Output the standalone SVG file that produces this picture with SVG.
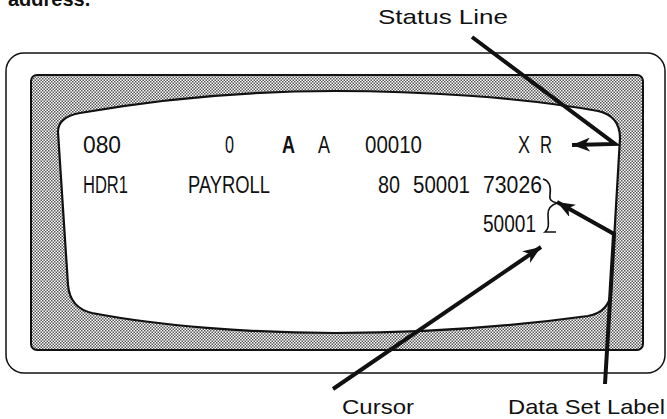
<svg xmlns="http://www.w3.org/2000/svg" width="667" height="419" viewBox="0 0 667 419">
<style>
.lbl{font-family:"Liberation Sans",Arial,sans-serif;font-size:21px;fill:#111}
.scr{font-family:"Liberation Sans",Arial,sans-serif;font-size:23px;fill:#111}
.ptr{fill:none;stroke:#111;stroke-width:4;stroke-linejoin:miter}
</style>
<defs>
<pattern id="dots" width="3" height="3" patternUnits="userSpaceOnUse">
<rect width="3" height="3" fill="#fff"/>
<rect x="0" y="0" width="1.5" height="1.5" fill="#555"/>
<rect x="1.5" y="1.5" width="1.5" height="1.5" fill="#555"/>
</pattern>
<marker id="ah" markerUnits="userSpaceOnUse" markerWidth="20" markerHeight="14" refX="18" refY="7" orient="auto">
<path d="M0,0 L18,7 L0,14 L5,7 z" fill="#111"/>
</marker>
</defs>
<text x="8" y="6" style="font-family:'Liberation Sans',Arial,sans-serif;font-size:20px;font-weight:bold;fill:#111">address.</text>
<g id="terminal">
<rect x="6" y="53" width="659" height="320" rx="18" fill="#fff" stroke="#111" stroke-width="1.5"/>
<rect x="31" y="75" width="612" height="275" rx="6" fill="url(#dots)" stroke="#111" stroke-width="2"/>
<path d="M80,113 C170,97 260,91 335,91 C420,91 520,97 598,111 Q620,116 620,138 L611,292 Q609,312 588,316 C500,328 420,333 335,333 C250,333 160,326 92,313 Q70,308 68,285 L58,132 Q58,117 80,113 Z" fill="#fff" stroke="#111" stroke-width="2.2"/>
</g>
<g id="screen-text" class="scr">
<text x="83" y="153" textLength="38" lengthAdjust="spacingAndGlyphs">080</text>
<text x="225" y="153" textLength="9" lengthAdjust="spacingAndGlyphs">0</text>
<text x="282" y="153" textLength="13" lengthAdjust="spacingAndGlyphs" font-weight="bold">A</text>
<text x="318" y="153" textLength="12" lengthAdjust="spacingAndGlyphs">A</text>
<text x="365" y="153" textLength="57" lengthAdjust="spacingAndGlyphs">00010</text>
<text x="518" y="153" textLength="12" lengthAdjust="spacingAndGlyphs">X</text>
<text x="540" y="153" textLength="12" lengthAdjust="spacingAndGlyphs">R</text>
<text x="83" y="193" textLength="45" lengthAdjust="spacingAndGlyphs">HDR1</text>
<text x="188" y="193" textLength="82" lengthAdjust="spacingAndGlyphs">PAYROLL</text>
<text x="378" y="193" textLength="22" lengthAdjust="spacingAndGlyphs">80</text>
<text x="413" y="193" textLength="57" lengthAdjust="spacingAndGlyphs">50001</text>
<text x="483" y="193" textLength="59" lengthAdjust="spacingAndGlyphs">73026</text>
<text x="483" y="232" textLength="53" lengthAdjust="spacingAndGlyphs">50001</text>
</g>
<g id="brace">
<path d="M543,179 C550,181 551,188 550,195 C549,200 552,202 557,203 C551,205 548,208 548,214 C548,222 550,228 545,232 L556,232" fill="none" stroke="#111" stroke-width="1.6"/>
</g>
<g id="label-status"><text class="lbl" x="378" y="24" textLength="130" lengthAdjust="spacingAndGlyphs">Status Line</text></g>
<g id="label-cursor"><text class="lbl" x="342" y="414" textLength="72" lengthAdjust="spacingAndGlyphs">Cursor</text></g>
<g id="label-dsl"><text class="lbl" x="508" y="414" textLength="157" lengthAdjust="spacingAndGlyphs">Data Set Label</text></g>
<g id="connectors">
<polyline class="ptr" points="472,37 615,144 572,145" marker-end="url(#ah)"/>
<polyline class="ptr" points="605,384 614,234 557,202" marker-end="url(#ah)"/>
<line class="ptr" x1="333" y1="389" x2="541" y2="247" marker-end="url(#ah)"/>
</g>
</svg>
